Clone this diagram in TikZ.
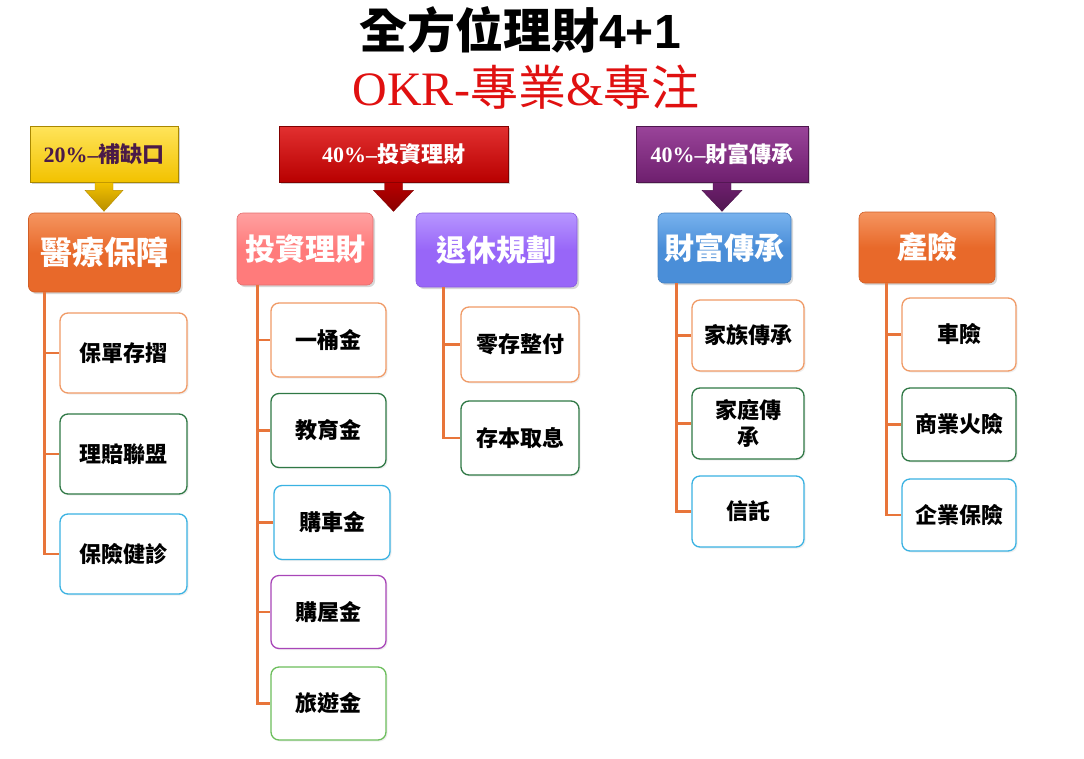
\documentclass[tikz,border=0pt]{standalone}
\usepackage{fontspec}
\newfontfamily\cjk{Noto Sans CJK TC}
\newfontfamily\serifl{Liberation Serif}
\newfontfamily\sansl{Liberation Sans}
\usetikzlibrary{shadows}
\definecolor{ylw}{HTML}{F2C200}
\definecolor{ylwtop}{HTML}{FFE45A}
\definecolor{ylwdark}{HTML}{B88E00}
\definecolor{ylwtext}{HTML}{4A1A48}
\definecolor{rd}{HTML}{B80000}
\definecolor{rdtop}{HTML}{E23030}
\definecolor{pu}{HTML}{6E1F6E}
\definecolor{putop}{HTML}{9A449A}
\definecolor{hOrange}{HTML}{E8692A}
\definecolor{hOrangeTop}{HTML}{F59560}
\definecolor{hPink}{HTML}{FF7B7B}
\definecolor{hPinkTop}{HTML}{FFA0A0}
\definecolor{hViolet}{HTML}{9866F8}
\definecolor{hVioletTop}{HTML}{B796FF}
\definecolor{hBlue}{HTML}{4A8ED8}
\definecolor{hBlueTop}{HTML}{78B2EE}
\definecolor{connc}{HTML}{E8753A}
\definecolor{bOrange}{HTML}{F09A66}
\definecolor{bGreen}{HTML}{2F7845}
\definecolor{bBlue}{HTML}{3AB2E2}
\definecolor{bPurple}{HTML}{A846B8}
\definecolor{bLGreen}{HTML}{6CBE5C}
\definecolor{titleRed}{HTML}{E01010}
\tikzset{
  banner/.style n args={3}{rectangle, inner sep=0pt, top color=#1, bottom color=#2, draw=#2!70!black, line width=0.6pt,
    drop shadow={opacity=0.35, shadow xshift=2pt, shadow yshift=-2pt}, minimum height=56pt, text=#3,
    font=\fontsize{22}{25}\selectfont},
  hdr/.style n args={2}{rectangle, rounded corners=6pt, inner sep=0pt, top color=#2, bottom color=#1, middle color=#1,
    draw=#1!90!black, line width=0.6pt, drop shadow={opacity=0.3, shadow xshift=2pt, shadow yshift=-2pt},
    text=white, font=\cjk\bfseries\fontsize{30}{34}\selectfont},
  leaf/.style={rectangle, rounded corners=8pt, inner sep=0pt, draw=#1, line width=1.3pt, fill=white,
    drop shadow={opacity=0.12, shadow xshift=1.5pt, shadow yshift=-1.5pt},
    font=\cjk\bfseries\fontsize{22}{27}\selectfont, align=center, text=black},
  conn/.style={draw=connc, line width=2.6pt},
}
\begin{document}
\begin{tikzpicture}[x=1pt,y=-1pt]
\useasboundingbox[fill=white] (0,0) rectangle (1084,758);

% titles
\node[font=\cjk\bfseries\fontsize{48}{52}\selectfont, text=black] (t1) at (520,30) {全方位理財{\sansl 4+1}};
\node[font=\cjk\fontsize{48}{52}\selectfont, text=titleRed] (t2) at (526,87) {{\serifl OKR-}專業{\serifl \&}專注};

% banners
\node[banner={ylwtop}{ylw}{ylwtext}, minimum width=148pt] (b1) at (104,154)
  {{\serifl\bfseries 20\%–}{\cjk\bfseries 補缺口}};
\node[banner={rdtop}{rd}{white}, minimum width=229pt] (b2) at (393.5,154)
  {{\serifl\bfseries 40\%–}{\cjk\bfseries 投資理財}};
\node[banner={putop}{pu}{white}, minimum width=172pt] (b3) at (722,154)
  {{\serifl\bfseries 40\%–}{\cjk\bfseries 財富傳承}};

% banner arrows
\shade[top color=ylw, bottom color=ylwdark, draw=ylwdark, line width=0.4pt]
  ([xshift=-9pt]b1.south) -- ++(0,8) -- ++(-10,0) -- ++(19,21) -- ++(19,-21) -- ++(-10,0) -- ++(0,-8) -- cycle;
\shade[top color=rd, bottom color=rd!75!black, draw=rd!70!black, line width=0.4pt]
  ([xshift=-9pt]b2.south) -- ++(0,8) -- ++(-11,0) -- ++(20,21) -- ++(20,-21) -- ++(-11,0) -- ++(0,-8) -- cycle;
\shade[top color=pu, bottom color=pu!75!black, draw=pu!70!black, line width=0.4pt]
  ([xshift=-9pt]b3.south) -- ++(0,8) -- ++(-11,0) -- ++(20,21) -- ++(20,-21) -- ++(-11,0) -- ++(0,-8) -- cycle;

% headers
\node[hdr={hOrange}{hOrangeTop}, minimum width=152pt, minimum height=79pt, font=\cjk\bfseries\fontsize{32}{36}\selectfont] (h1) at (104.5,252.5) {醫療保障};
\node[hdr={hPink}{hPinkTop}, minimum width=136pt, minimum height=72pt] (h2) at (305,249) {投資理財};
\node[hdr={hViolet}{hVioletTop}, minimum width=161pt, minimum height=74pt] (h3) at (496.5,250) {退休規劃};
\node[hdr={hBlue}{hBlueTop}, minimum width=133pt, minimum height=70pt] (h4) at (724.5,248) {財富傳承};
\node[hdr={hOrange}{hOrangeTop}, minimum width=136pt, minimum height=71pt] (h5) at (927,247.5) {產險};

% leaves column 1
\node[leaf=bOrange, minimum width=127pt, minimum height=80pt] (l11) at (123.5,353) {保單存摺};
\node[leaf=bGreen,  minimum width=127pt, minimum height=80pt] (l12) at (123.5,454) {理賠聯盟};
\node[leaf=bBlue,   minimum width=127pt, minimum height=80pt] (l13) at (123.5,554) {保險健診};
% column 2
\node[leaf=bOrange, minimum width=115pt, minimum height=74pt] (l21) at (328.5,340) {一桶金};
\node[leaf=bGreen,  minimum width=115pt, minimum height=74pt] (l22) at (328.5,430.5) {教育金};
\node[leaf=bBlue,   minimum width=116pt, minimum height=74pt] (l23) at (332,522.5) {購車金};
\node[leaf=bPurple, minimum width=115pt, minimum height=73pt] (l24) at (328.5,612) {購屋金};
\node[leaf=bLGreen, minimum width=115pt, minimum height=73pt] (l25) at (328.5,703.5) {旅遊金};
% column 3
\node[leaf=bOrange, minimum width=118pt, minimum height=75pt] (l31) at (520,344.5) {零存整付};
\node[leaf=bGreen,  minimum width=118pt, minimum height=74pt] (l32) at (520,438) {存本取息};
% column 4
\node[leaf=bOrange, minimum width=112pt, minimum height=71pt] (l41) at (748,335.5) {家族傳承};
\node[leaf=bGreen,  minimum width=112pt, minimum height=71pt] (l42) at (748,423.5) {家庭傳\\承};
\node[leaf=bBlue,   minimum width=112pt, minimum height=71pt] (l43) at (748,511.5) {信託};
% column 5
\node[leaf=bOrange, minimum width=114pt, minimum height=73pt] (l51) at (959,334.5) {車險};
\node[leaf=bGreen,  minimum width=114pt, minimum height=73pt] (l52) at (959,424.5) {商業火險};
\node[leaf=bBlue,   minimum width=114pt, minimum height=72pt] (l53) at (959,515) {企業保險};

% connectors
\foreach \l in {l11,l12,l13} \draw[conn] ([xshift=16pt]h1.south west) |- (\l.west);
\foreach \l in {l21,l22,l23,l24,l25} \draw[conn] ([xshift=21pt]h2.south west) |- (\l.west);
\foreach \l in {l31,l32} \draw[conn] ([xshift=28pt]h3.south west) |- (\l.west);
\foreach \l in {l41,l42,l43} \draw[conn] ([xshift=19pt]h4.south west) |- (\l.west);
\foreach \l in {l51,l52,l53} \draw[conn] ([xshift=28pt]h5.south west) |- (\l.west);
\end{tikzpicture}
\end{document}
